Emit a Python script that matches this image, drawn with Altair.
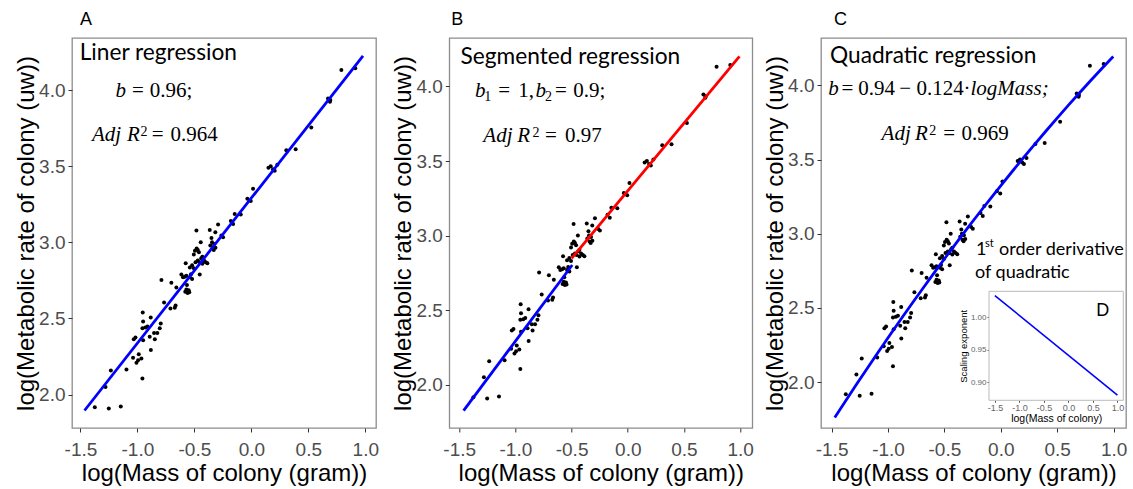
import altair as alt
import pandas as pd

# ---------------- data ----------------
mass = [-1.374, -1.280, -1.251, -1.233, -1.146, -1.096, -1.038, -1.032, -1.017, -1.008,
        -0.994, -0.988, -0.965, -0.956, -0.953, -0.950, -0.956, -0.950, -0.930, -0.912,
        -0.892, -0.883, -0.882, -0.854, -0.847, -0.825, -0.804, -0.795, -0.789, -0.766,
        -0.710, -0.702, -0.672, -0.665, -0.658, -0.614, -0.600, -0.584, -0.576, -0.570,
        -0.580, -0.570, -0.565, -0.560, -0.550, -0.545, -0.540, -0.540, -0.530, -0.520,
        -0.520, -0.505, -0.505, -0.495, -0.490, -0.482, -0.480, -0.470, -0.470, -0.460,
        -0.455, -0.453, -0.444, -0.440, -0.430, -0.430, -0.415, -0.400, -0.386, -0.365,
        -0.360, -0.350, -0.345, -0.340, -0.330, -0.327, -0.316, -0.315, -0.292, -0.263,
        -0.248, -0.180, -0.160, -0.146, -0.093, -0.035, -0.005, 0.015, 0.150, 0.170,
        0.190, 0.205, 0.228, 0.307, 0.389, 0.526, 0.673, 0.690, 0.693, 0.790, 0.912]
rate = [1.917, 2.050, 1.908, 2.158, 1.921, 2.165, 2.242, 2.363, 2.374, 2.209,
        2.225, 2.264, 2.237, 2.106, 2.539, 2.480, 2.435, 2.356, 2.440, 2.447,
        2.379, 2.506, 2.293, 2.405, 2.363, 2.405, 2.435, 2.466, 2.752, 2.605,
        2.565, 2.735, 2.570, 2.585, 2.704, 2.788, 2.770, 2.774, 2.862, 2.781,
        2.675, 2.690, 2.720, 2.668, 2.685, 2.672, 2.770, 2.835, 2.790, 2.760,
        2.850, 2.920, 2.830, 2.945, 2.870, 3.078, 2.960, 2.880, 2.950, 2.935,
        2.870, 2.788, 3.000, 2.895, 2.905, 2.860, 2.880, 2.870, 2.862, 3.082,
        2.980, 3.029, 3.000, 2.960, 2.950, 2.990, 3.067, 2.965, 3.117, 3.045,
        3.034, 3.140, 3.120, 3.187, 3.183, 3.286, 3.271, 3.352, 3.490, 3.500,
        3.480, 3.470, 3.510, 3.606, 3.612, 3.755, 3.946, 3.924, 3.935, 4.133, 4.144]

# fitted lines, end points
lineA_x, lineA_y = [-1.464, 0.98], [1.895, 4.226]
lineB1_x, lineB1_y = [-1.461, -0.494], [1.826, 2.803]
lineB2_x, lineB2_y = [-0.5, 0.994], [2.847, 4.202]

x_ticks = [-1.5, -1.0, -0.5, 0.0, 0.5, 1.0]
y_ticks = [2.0, 2.5, 3.0, 3.5, 4.0]

# inset D: first-order derivative of the quadratic (end points)
inset_mass = [-1.5, 1.0]
inset_exponent = [1.033, 0.880]
inset_x_ticks = [-1.5, -1.0, -0.5, 0.0, 0.5, 1.0]
inset_y_ticks = [0.90, 0.95, 1.00]

df = pd.DataFrame({"x": mass, "y": rate})
inset_df = pd.DataFrame({"lm": inset_mass, "se": inset_exponent})
one = alt.Data(values=[{"a": 1}])

SANS = "Liberation Sans"
SERIF = "Liberation Serif"
CAL = "Lato"
LBL = "replace(format(datum.value, '.1f'), '\u2212', '-')"
MS = 21     # math font size
SS = 14     # sub/superscript size
TS = 22.7   # panel heading size


def txt(s, x, y, size, font, italic=False, color="black"):
    return alt.Chart(one).mark_text(
        align="left", baseline="alphabetic", fontSize=size, font=font,
        fontStyle="italic" if italic else "normal", color=color
    ).encode(x=alt.value(x), y=alt.value(y), text=alt.value(s))


def axes():
    xa = alt.Axis(title="log(Mass of colony (gram))", values=x_ticks, labelExpr=LBL,
                  grid=False, domain=False, tickSize=4, tickColor="#333333",
                  labelColor="#4D4D4D", labelFontSize=19, labelFont=SANS,
                  titleFont=SANS, titleFontSize=24, titleFontWeight="normal",
                  titleColor="black", labelPadding=8, titlePadding=2)
    ya = alt.Axis(title="log(Metabolic rate of colony (uw))", values=y_ticks, labelExpr=LBL,
                  grid=False, domain=False, tickSize=4, tickColor="#333333",
                  labelColor="#4D4D4D", labelFontSize=19, labelFont=SANS,
                  titleFont=SANS, titleFontSize=24, titleFontWeight="normal",
                  titleColor="black", labelPadding=3, titlePadding=0)
    return xa, ya


def main_layers(xdom, ydom, lines, poly=None):
    xa, ya = axes()
    X = alt.X("x:Q", scale=alt.Scale(domain=xdom, nice=False, zero=False), axis=xa)
    Y = alt.Y("y:Q", scale=alt.Scale(domain=ydom, nice=False, zero=False), axis=ya)
    pts = alt.Chart(df).mark_circle(size=16, color="black", opacity=1).encode(x=X, y=Y)
    layers = [pts]
    for lx, ly, color in lines:
        ldf = pd.DataFrame({"x": lx, "y": ly})
        layers.append(alt.Chart(ldf).mark_line(color=color, strokeWidth=2.8).encode(x="x:Q", y="y:Q"))
    if poly is not None:
        layers.append(alt.Chart(df).transform_regression("x", "y", method="poly", order=2, extent=poly)
                      .mark_line(color="#0000FF", strokeWidth=2.8).encode(x="x:Q", y="y:Q"))
    return layers


def title(letter, dx):
    return alt.TitleParams(text=letter, anchor="start", frame="group", dx=dx, fontSize=18,
                           fontWeight="normal", font=SANS, color="black", baseline="bottom", offset=-9)

W_A, W_B, W_C, H = 304, 303, 305, 390

# ---------------- panel A ----------------
pA_layers = main_layers([-1.574, 1.094], [1.78, 4.343], [(lineA_x, lineA_y, "#0000FF")])
pA_layers += [
    txt("Liner regression", 7.7, 22, TS, CAL),
    txt("b", 43.4, 59, MS, SERIF, italic=True),
    txt("=", 60, 59, MS, SERIF),
    txt("0.96;", 77.7, 59, MS, SERIF),
    txt("Adj", 20, 102.5, MS, SERIF, italic=True),
    txt("R", 55, 102.5, MS, SERIF, italic=True),
    txt("2", 68.4, 97.5, SS, SERIF),
    txt("=", 79.7, 102.5, MS, SERIF),
    txt("0.964", 98.4, 102.5, MS, SERIF),
]
pA = alt.layer(*pA_layers).properties(width=W_A, height=H, title=title("A", 8))

# ---------------- panel B ----------------
pB_layers = main_layers([-1.588, 1.108], [1.71, 4.325],
                        [(lineB1_x, lineB1_y, "#0000FF"), (lineB2_x, lineB2_y, "#FF0000")])
pB_layers += [
    txt("Segmented regression", 11.3, 26, TS, CAL),
    txt("b", 25.7, 58.5, MS, SERIF, italic=True),
    txt("1", 35, 62.5, SS, SERIF),
    txt("=", 49, 58.5, MS, SERIF),
    txt("1,", 69, 58.5, MS, SERIF),
    txt("b", 86.3, 58.5, MS, SERIF, italic=True),
    txt("2", 95.7, 62.5, SS, SERIF),
    txt("=", 105.7, 58.5, MS, SERIF),
    txt("0.9;", 124, 58.5, MS, SERIF),
    txt("Adj", 34, 103.5, MS, SERIF, italic=True),
    txt("R", 68, 103.5, MS, SERIF, italic=True),
    txt("2", 83.3, 98.5, SS, SERIF),
    txt("=", 95.7, 103.5, MS, SERIF),
    txt("0.97", 115.7, 103.5, MS, SERIF),
]
pB = alt.layer(*pB_layers).properties(width=W_B, height=H, title=title("B", 2))

# ---------------- panel C ----------------
pC_layers = main_layers([-1.594, 1.11], [1.69, 4.32], [], poly=[-1.472, 0.997])
pC_layers += [
    txt("Quadratic regression", 9, 25, TS, CAL),
    txt("b", 7.3, 56.5, MS, SERIF, italic=True),
    txt("=", 20.6, 56.5, MS, SERIF),
    txt("0.94", 37.3, 56.5, MS, SERIF),
    txt("\u2212", 78.3, 56.5, MS, SERIF),
    txt("0.124", 95.6, 56.5, MS, SERIF),
    txt("\u00b7", 142.5, 56.5, MS, SERIF),
    txt("logMass;", 149.5, 56.5, MS, SERIF, italic=True),
    txt("Adj", 60.6, 101.5, MS, SERIF, italic=True),
    txt("R", 94, 101.5, MS, SERIF, italic=True),
    txt("2", 108.3, 96.5, SS, SERIF),
    txt("=", 122.3, 101.5, MS, SERIF),
    txt("0.969", 140.6, 101.5, MS, SERIF),
    txt("1", 155, 216.6, 18, CAL),
    txt("st", 164, 209, 11, CAL),
    txt("order derivative", 178, 216.6, 18, CAL),
    txt("of quadratic", 154, 240, 18, CAL),
]
mainC = alt.layer(*pC_layers)

IX0, IX1, IY0, IY1 = 168, 302.3, 253.3, 362.3
frame = alt.Chart(one).mark_rect(fill="white", stroke="#BBBBBB", strokeWidth=1).encode(
    x=alt.value(IX0), x2=alt.value(IX1), y=alt.value(IY0), y2=alt.value(IY1))
inset_line = alt.Chart(inset_df).mark_line(color="#0000FF", strokeWidth=1.6).encode(
    x=alt.X("lm:Q", scale=alt.Scale(domain=[-1.62, 1.12], range=[IX0, IX1], nice=False, zero=False),
            axis=alt.Axis(orient="bottom", offset=-(H - IY1), values=inset_x_ticks, labelExpr=LBL,
                          grid=False, domain=False, tickSize=2, tickColor="#555555",
                          labelColor="#666666", labelFontSize=9, labelFont=SANS, labelPadding=1,
                          title="log(Mass of colony)", titleFont=SANS, titleFontSize=10.5,
                          titleFontWeight="normal", titleColor="black", titlePadding=1)),
    y=alt.Y("se:Q", scale=alt.Scale(domain=[0.872, 1.0395], range=[IY1, IY0], nice=False, zero=False),
            axis=alt.Axis(orient="left", offset=-IX0, values=inset_y_ticks, format=".2f",
                          grid=False, domain=False, tickSize=2, tickColor="#555555",
                          labelColor="#666666", labelFontSize=8, labelFont=SANS, labelPadding=1,
                          title="Scaling exponent", titleFont=SANS, titleFontSize=9.5,
                          titleFontWeight="normal", titleColor="black", titlePadding=2)))
d_label = txt("D", 275.3, 278.3, 18, SANS)
inset = alt.layer(frame, inset_line, d_label)

pC = alt.layer(mainC, inset).resolve_scale(x="independent", y="independent").properties(
    width=W_C, height=H, title=title("C", 13))

chart = alt.hconcat(
    pA,
    alt.hconcat(pB, pC, spacing=68.7, bounds="flush"),
    spacing=73.3, bounds="flush"
).properties(
    padding={"left": 13, "top": 10, "right": 0, "bottom": 0},
    background="white"
).configure_view(stroke="#8C8C8C", strokeWidth=1.3)

chart.save("out.html", embed_options={"renderer": "svg", "actions": False})
